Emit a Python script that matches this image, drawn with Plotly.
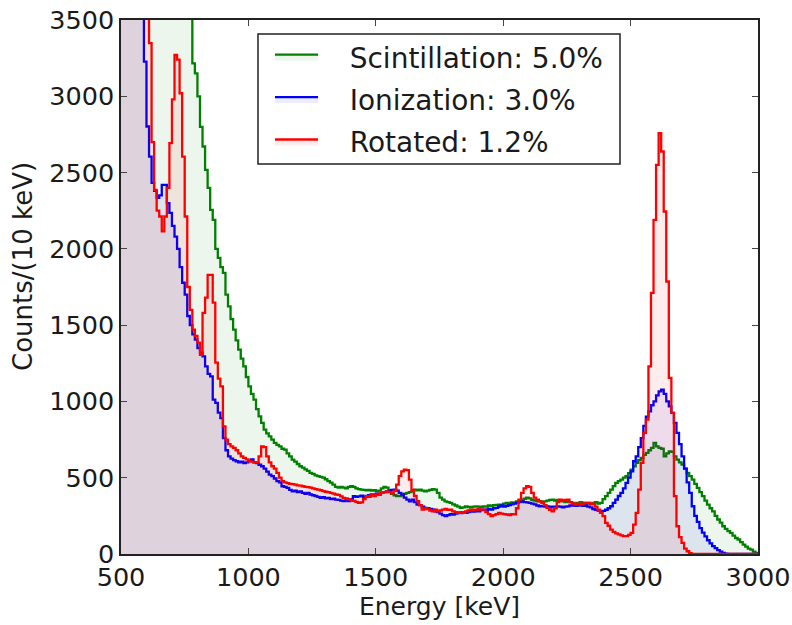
import plotly.graph_objects as go

# Bin left edges (10 keV bins, 500-3000 keV)
bin_edges = list(range(500, 3000, 10))
x_max = 3000

# Scintillation (green), counts per 10 keV bin, rows of 100 keV
scintillation = [
    9200, 8800, 8400, 8000, 7700, 7400, 7100, 6800, 6500, 6250,   # 500
    6000, 5800, 5600, 5400, 5200, 5000, 4850, 4700, 4550, 4400,   # 600
    4250, 4100, 3980, 3860, 3750, 3650, 3580, 3540, 3216, 3150,   # 700
    3000, 2800, 2671, 2518, 2400, 2256, 2190, 2000, 1941, 1880,   # 800
    1843, 1700, 1623, 1540, 1470, 1400, 1339, 1280, 1230, 1160,   # 900
    1099, 1050, 1012, 950, 902, 860, 815, 790, 771, 750,          # 1000
    728, 715, 706, 690, 684, 660, 640, 619, 605, 590,             # 1100
    575, 566, 555, 545, 532, 525, 515, 510, 505, 500,             # 1200
    490, 478, 468, 455, 440, 435, 440, 435, 430, 440,             # 1300
    444, 440, 430, 425, 422, 420, 418, 420, 415, 418,             # 1400
    412, 415, 430, 440, 435, 410, 395, 385, 380, 379,             # 1500
    385, 395, 400, 405, 410, 422, 418, 422, 415, 410,             # 1600
    415, 420, 425, 422, 400, 370, 357, 345, 340, 335,             # 1700
    325, 318, 310, 302, 305, 312, 308, 305, 310, 312,             # 1800
    310, 308, 312, 310, 318, 315, 320, 322, 324, 324,             # 1900
    330, 335, 330, 338, 335, 345, 350, 355, 362, 370,             # 2000
    365, 355, 350, 345, 346, 340, 345, 350, 355, 357,             # 2100
    350, 355, 350, 345, 340, 345, 340, 335, 330, 335,             # 2200
    340, 335, 330, 335, 330, 335, 340, 330, 335, 360,             # 2300
    379, 400, 422, 445, 466, 478, 488, 500, 510, 530,             # 2400
    553, 575, 597, 615, 630, 650, 663, 680, 695, 728,             # 2500
    705, 695, 690, 640, 660, 673, 670, 640, 619, 600,             # 2600
    586, 560, 532, 510, 488, 460, 433, 405, 379, 350,             # 2700
    324, 300, 280, 250, 226, 205, 182, 165, 150, 139,             # 2800
    120, 105, 95, 78, 62, 48, 35, 29, 15, 8,                      # 2900
]

# Ionization (blue)
ionization = [
    8500, 8000, 7500, 7000, 6500, 6100, 5700, 5300, 4900, 3227,   # 500
    2802, 2605, 2433, 2380, 2335, 2350, 2420, 2420, 2300, 2236,   # 600
    2150, 2080, 2000, 1880, 1778, 1700, 1560, 1500, 1440, 1405,   # 700
    1350, 1320, 1295, 1230, 1180, 1164, 1012, 990, 926, 890,      # 800
    760, 680, 640, 625, 615, 608, 600, 605, 595, 600,             # 900
    610, 620, 600, 595, 585, 575, 560, 540, 520, 510,             # 1000
    495, 477, 470, 444, 440, 433, 420, 411, 415, 405,             # 1100
    411, 400, 395, 400, 390, 385, 380, 375, 368, 372,             # 1200
    365, 368, 360, 362, 357, 355, 350, 346, 352, 346,             # 1300
    360, 379, 375, 378, 382, 375, 380, 385, 390, 388,             # 1400
    395, 390, 400, 405, 411, 415, 420, 422, 415, 400,             # 1500
    390, 370, 357, 345, 357, 340, 324, 320, 310, 302,             # 1600
    300, 295, 290, 280, 275, 265, 255, 248, 255, 262,             # 1700
    258, 265, 270, 268, 272, 270, 275, 280, 278, 285,             # 1800
    280, 288, 291, 290, 295, 291, 300, 302, 310, 318,             # 1900
    310, 315, 320, 325, 330, 335, 340, 345, 340, 338,             # 2000
    335, 330, 325, 318, 313, 315, 310, 312, 305, 310,             # 2100
    308, 312, 310, 305, 310, 312, 318, 320, 315, 318,             # 2200
    320, 315, 318, 310, 305, 295, 290, 285, 280, 282,             # 2300
    290, 300, 313, 335, 357, 380, 401, 430, 466, 500,             # 2400
    542, 608, 640, 700, 760, 840, 900, 935, 975, 1000,            # 2500
    1040, 1066, 1077, 1050, 1000, 968, 925, 859, 794, 720,        # 2600
    640, 560, 470, 400, 313, 250, 210, 170, 140, 115,             # 2700
    90, 70, 52, 38, 25, 16, 8, 3, 0, 0,                           # 2800
    0, 0, 0, 0, 0, 0, 0, 0, 0, 0,                                 # 2900
]

# Rotated (red)
rotated = [
    9500, 9000, 8500, 8000, 7500, 7000, 6500, 6000, 5200, 4500,   # 500
    3900, 3348, 2700, 2387, 2250, 2212, 2114, 2212, 2400, 2693,   # 600
    2980, 3271, 3240, 3020, 2605, 2212, 1750, 1600, 1470, 1430,   # 700
    1385, 1306, 1580, 1680, 1830, 1830, 1647, 1254, 1150, 1099,   # 800
    837, 750, 720, 705, 695, 680, 660, 640, 630, 620,             # 900
    608, 605, 600, 600, 640, 706, 700, 640, 600, 575,             # 1000
    560, 532, 500, 477, 470, 465, 460, 458, 455, 450,             # 1100
    448, 444, 440, 438, 435, 430, 425, 422, 418, 412,             # 1200
    408, 405, 400, 396, 390, 388, 378, 368, 365, 360,             # 1300
    352, 348, 342, 335, 338, 360, 379, 375, 385, 380,             # 1400
    390, 395, 400, 405, 411, 405, 398, 415, 455, 510,             # 1500
    542, 553, 550, 488, 420, 380, 346, 320, 291, 300,             # 1600
    295, 285, 280, 290, 280, 285, 291, 295, 290, 291,             # 1700
    280, 275, 270, 275, 270, 280, 285, 291, 288, 291,             # 1800
    295, 291, 291, 275, 262, 248, 255, 262, 270, 265,             # 1900
    262, 259, 255, 262, 260, 300, 357, 400, 430, 444,             # 2000
    440, 400, 370, 357, 345, 335, 320, 302, 290, 280,             # 2100
    300, 340, 357, 350, 355, 357, 340, 330, 324, 330,             # 2200
    324, 330, 335, 335, 325, 330, 310, 291, 270, 248,             # 2300
    204, 185, 160, 145, 135, 128, 122, 117, 117, 125,             # 2400
    139, 193, 270, 422, 597, 794, 881, 1230, 1711, 2190,          # 2500
    2551, 2758, 2638, 2245, 1786, 1154, 925, 379, 182, 110,       # 2600
    73, 35, 18, 5, 0, 0, 0, 0, 0, 0,                              # 2700
    0, 0, 0, 0, 0, 0, 0, 0, 0, 0,                                 # 2800
    0, 0, 0, 0, 0, 0, 0, 0, 0, 0,                                 # 2900
]

series_names = ["Scintillation: 5.0%", "Ionization: 3.0%", "Rotated: 1.2%"]
x_ticks = [500, 1000, 1500, 2000, 2500, 3000]
y_ticks = [0, 500, 1000, 1500, 2000, 2500, 3000, 3500]

FONT = "DejaVu Sans"
styles = [
    ("#008000", "rgba(0,128,0,0.07)"),
    ("#0000ff", "rgba(0,0,255,0.07)"),
    ("#ff0000", "rgba(255,0,0,0.07)"),
]

# Page body margin is removed (post_script), so the figure fills the window;
# plot area at page pixels x 121..758, y 20..554.
W, H = 792, 625
L, R, T, B = 121, 34, 20, 71
pw, ph = W - L - R, H - T - B


def px_to_paper(px, py):
    return (px - L) / pw, (H - B - py) / ph


fig = go.Figure()
x_steps = bin_edges + [x_max]
pad = "\u00a0\u00a0\u00a0"
for i, (name, vals, (lc, fc)) in enumerate(zip(series_names, [scintillation, ionization, rotated], styles)):
    fig.add_trace(go.Scatter(
        x=x_steps, y=vals + [vals[-1]],
        mode="lines", line=dict(color=lc, width=2.3, shape="hv"),
        fill="tozeroy", fillcolor=fc, name=pad + name, legendgroup=f"g{i}",
    ))

axis_common = dict(
    showgrid=False, zeroline=False, showline=True, linecolor="#222222", linewidth=1.5,
    mirror="ticks", ticks="inside", ticklen=6, tickwidth=1, tickcolor="#444444",
    tickfont=dict(family=FONT, size=25.5, color="#1a1a1a"), automargin=False,
    ticklabeloverflow="allow",
)

lx0, ly0 = px_to_paper(258, 34)
lx1, ly1 = px_to_paper(620, 164)
leg_x, leg_y = px_to_paper(270, 32)
ylab_x, ylab_y = px_to_paper(23, 267)

fig.update_layout(
    width=W, height=H,
    margin=dict(l=L, r=R, t=T, b=B, autoexpand=False),
    paper_bgcolor="white", plot_bgcolor="white",
    font=dict(family=FONT, color="#1a1a1a"),
    xaxis=dict(range=[500, 3000], tickvals=x_ticks, ticktext=[str(v) for v in x_ticks],
               title=dict(text="Energy [keV]", font=dict(family=FONT, size=25), standoff=2),
               **axis_common),
    yaxis=dict(range=[0, 3500], tickvals=y_ticks, ticktext=[str(v) for v in y_ticks],
               **axis_common),
    legend=dict(x=leg_x, y=leg_y, xanchor="left", yanchor="top",
                bgcolor="rgba(0,0,0,0)", borderwidth=0, tracegroupgap=3,
                font=dict(family=FONT, size=28, color="#1a1a1a"),
                itemwidth=43),
    shapes=[dict(type="rect", xref="paper", yref="paper",
                 x0=lx0, x1=lx1, y0=ly1, y1=ly0,
                 line=dict(color="#222222", width=1.5), fillcolor="white", layer="above")],
    annotations=[dict(text="Counts/(10 keV)", xref="paper", yref="paper",
                      x=ylab_x, y=ylab_y, xanchor="center", yanchor="middle",
                      textangle=-90, showarrow=False,
                      font=dict(family=FONT, size=26, color="#1a1a1a"))],
)

fig.write_html("out.html", config={"displayModeBar": False},
               post_script="document.body.style.margin='0';")
